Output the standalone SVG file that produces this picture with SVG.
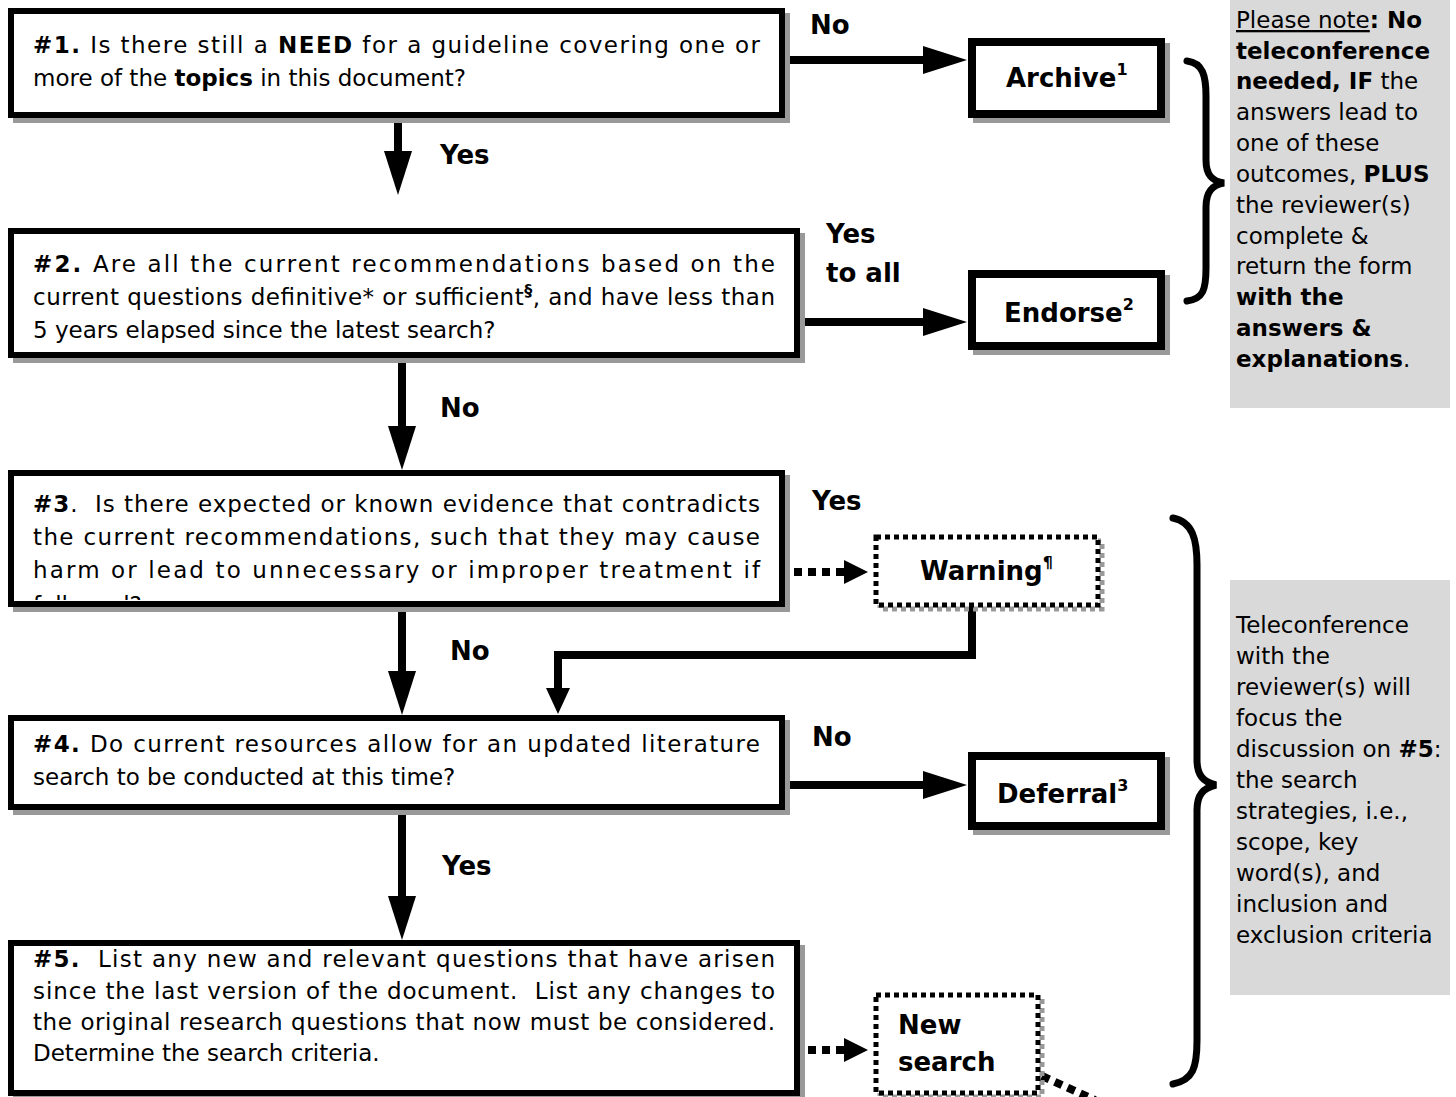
<svg xmlns="http://www.w3.org/2000/svg" width="1456" height="1097" viewBox="0 0 1456 1097">
<style>
text{font-family:"DejaVu Sans","Noto Sans",sans-serif;fill:#000}
.t{font-size:23px}
.g{font-size:23px}
.b{font-weight:bold}
.lbl{font-size:26px;font-weight:bold}
.out{font-size:26px;font-weight:bold}
.sup{font-size:16px;font-weight:bold}
.sh{fill:#999;stroke:none}
.box{fill:#fff;stroke:#000;stroke-width:6}
.obox{fill:#fff;stroke:#000;stroke-width:8}
.dbox{fill:#fff;stroke:#000;stroke-width:5;stroke-dasharray:5 4}
.dsh{fill:none;stroke:#999;stroke-width:5;stroke-dasharray:5 4}
.gray{fill:#d9d9d9}
.c{fill:none;stroke:#000;stroke-width:8}
.cd{fill:none;stroke:#000;stroke-width:8;stroke-dasharray:8 6}
.br{fill:none;stroke:#000;stroke-width:7;stroke-linecap:round}
</style>
<defs>
<marker id="ah" markerUnits="userSpaceOnUse" viewBox="0 0 44 28" markerWidth="44" markerHeight="28" refX="24" refY="14" orient="auto"><path d="M0,0 L44,14 L0,28 z" fill="#000"/></marker>
<marker id="ahs" markerUnits="userSpaceOnUse" viewBox="0 0 26 24" markerWidth="26" markerHeight="24" refX="14" refY="12" orient="auto"><path d="M0,0 L26,12 L0,24 z" fill="#000"/></marker>
<marker id="ahd" markerUnits="userSpaceOnUse" viewBox="0 0 24 24" markerWidth="24" markerHeight="24" refX="4" refY="12" orient="auto"><path d="M0,0 L24,12 L0,24 z" fill="#000"/></marker>
<clipPath id="clip3"><rect x="14" y="476" width="765" height="124"/></clipPath>
</defs>

<g id="note-top">
<rect class="gray" x="1230" y="0" width="220" height="408"/>
<text class="g" x="1236" y="28"><tspan text-decoration="underline">Please note</tspan><tspan class="b">: No</tspan></text>
<text class="g b" x="1236" y="59">teleconference</text>
<text class="g" x="1236" y="89"><tspan class="b">needed, IF</tspan> the</text>
<text class="g" x="1236" y="120">answers lead to</text>
<text class="g" x="1236" y="151">one of these</text>
<text class="g" x="1236" y="182">outcomes, <tspan class="b">PLUS</tspan></text>
<text class="g" x="1236" y="213">the reviewer(s)</text>
<text class="g" x="1236" y="244">complete &amp;</text>
<text class="g" x="1236" y="274">return the form</text>
<text class="g b" x="1236" y="305">with the</text>
<text class="g b" x="1236" y="336">answers &amp;</text>
<text class="g" x="1236" y="367"><tspan class="b">explanations</tspan>.</text>
</g>

<g id="note-bottom">
<rect class="gray" x="1230" y="580" width="220" height="415"/>
<text class="g" x="1236" y="633">Teleconference</text>
<text class="g" x="1236" y="664">with the</text>
<text class="g" x="1236" y="695">reviewer(s) will</text>
<text class="g" x="1236" y="726">focus the</text>
<text class="g" x="1236" y="757">discussion on <tspan class="b">#5</tspan>:</text>
<text class="g" x="1236" y="788">the search</text>
<text class="g" x="1236" y="819">strategies, i.e.,</text>
<text class="g" x="1236" y="850">scope, key</text>
<text class="g" x="1236" y="881">word(s), and</text>
<text class="g" x="1236" y="912">inclusion and</text>
<text class="g" x="1236" y="943">exclusion criteria</text>
</g>

<g id="connectors">
<path class="c" d="M788,60 H947" marker-end="url(#ah)"/>
<path class="c" d="M800,322 H947" marker-end="url(#ah)"/>
<path class="c" d="M788,785 H947" marker-end="url(#ah)"/>
<path class="c" d="M398,121 V175" marker-end="url(#ah)"/>
<path class="c" d="M402,361 V450" marker-end="url(#ah)"/>
<path class="c" d="M402,609 V695" marker-end="url(#ah)"/>
<path class="c" d="M402,812 V920" marker-end="url(#ah)"/>
<path class="c" d="M972,607 V655 H558 V702" marker-end="url(#ahs)"/>
<path class="cd" d="M794,572 H848" marker-end="url(#ahd)"/>
<path class="cd" d="M808,1050 H848" marker-end="url(#ahd)"/>
<path class="cd" d="M1042,1076 L1095,1100"/>
<path class="br" d="M1187,61 C1203,63 1206,76 1206,96 V160 C1206,175 1212,181 1224,183 C1212,185 1206,192 1206,207 V268 C1206,290 1203,299 1187,301"/>
<path class="br" d="M1173,518 C1193,522 1197,540 1197,565 V760 C1197,775 1203,782 1216,785 C1203,788 1197,795 1197,810 V1040 C1197,1068 1193,1080 1173,1084"/>
<text class="lbl" x="810" y="34">No</text>
<text class="lbl" x="440" y="164">Yes</text>
<text class="lbl" x="826" y="243">Yes</text>
<text class="lbl" x="826" y="282">to all</text>
<text class="lbl" x="440" y="417">No</text>
<text class="lbl" x="812" y="510">Yes</text>
<text class="lbl" x="450" y="660">No</text>
<text class="lbl" x="812" y="746">No</text>
<text class="lbl" x="442" y="875">Yes</text>
</g>

<g id="q1">
<rect class="sh" x="13" y="13" width="777" height="110"/>
<rect class="box" x="11" y="11" width="771" height="104"/>
<text class="t" x="33" y="53" textLength="727" lengthAdjust="spacing"><tspan class="b">#1.</tspan> Is there still a <tspan class="b">NEED</tspan> for a guideline covering one or</text>
<text class="t" x="33" y="86">more of the <tspan class="b">topics</tspan> in this document?</text>
</g>

<g id="q2">
<rect class="sh" x="13" y="233" width="792" height="130"/>
<rect class="box" x="11" y="231" width="786" height="124"/>
<text class="t" x="33" y="272" textLength="742" lengthAdjust="spacing"><tspan class="b">#2.</tspan> Are all the current recommendations based on the</text>
<text class="t" x="33" y="305" textLength="742" lengthAdjust="spacing">current questions definitive* or sufficient<tspan class="sup" font-weight="normal" dy="-9">§</tspan><tspan dy="9">, and have less than</tspan></text>
<text class="t" x="33" y="338">5 years elapsed since the latest search?</text>
</g>

<g id="q3">
<rect class="sh" x="13" y="475" width="777" height="137"/>
<rect class="box" x="11" y="473" width="771" height="131"/>
<g clip-path="url(#clip3)">
<text class="t" x="33" y="512" textLength="727" lengthAdjust="spacing"><tspan class="b">#3</tspan>.&#160; Is there expected or known evidence that contradicts</text>
<text class="t" x="33" y="545" textLength="727" lengthAdjust="spacing">the current recommendations, such that they may cause</text>
<text class="t" x="33" y="578" textLength="727" lengthAdjust="spacing">harm or lead to unnecessary or improper treatment if</text>
<text class="t" x="33" y="613">followed?</text>
</g>
</g>

<g id="q4">
<rect class="sh" x="13" y="720" width="777" height="95"/>
<rect class="box" x="11" y="718" width="771" height="89"/>
<text class="t" x="33" y="752" textLength="727" lengthAdjust="spacing"><tspan class="b">#4.</tspan> Do current resources allow for an updated literature</text>
<text class="t" x="33" y="785">search to be conducted at this time?</text>
</g>

<g id="q5">
<rect class="sh" x="13" y="945" width="792" height="156"/>
<rect class="box" x="11" y="943" width="786" height="150"/>
<text class="t" x="33" y="967" textLength="742" lengthAdjust="spacing"><tspan class="b">#5.</tspan>&#160; List any new and relevant questions that have arisen</text>
<text class="t" x="33" y="999" textLength="742" lengthAdjust="spacing">since the last version of the document.&#160; List any changes to</text>
<text class="t" x="33" y="1030" textLength="742" lengthAdjust="spacing">the original research questions that now must be considered.</text>
<text class="t" x="33" y="1061">Determine the search criteria.</text>
</g>

<g id="archive">
<rect class="sh" x="973" y="43" width="197" height="80"/>
<rect class="obox" x="972" y="42" width="189" height="72"/>
<text class="out" x="1006" y="87">Archive<tspan class="sup" dy="-12">1</tspan></text>
</g>

<g id="endorse">
<rect class="sh" x="973" y="275" width="197" height="80"/>
<rect class="obox" x="972" y="274" width="189" height="72"/>
<text class="out" x="1004" y="322">Endorse<tspan class="sup" dy="-12">2</tspan></text>
</g>

<g id="deferral">
<rect class="sh" x="973" y="757" width="197" height="78"/>
<rect class="obox" x="972" y="756" width="189" height="70"/>
<text class="out" x="997" y="803">Deferral<tspan class="sup" dy="-12">3</tspan></text>
</g>

<g id="warning">
<rect class="dsh" x="880" y="541" width="222" height="68"/>
<rect class="dbox" x="876" y="537" width="222" height="68"/>
<text class="out" x="920" y="580">Warning<tspan class="sup" dy="-12">¶</tspan></text>
</g>

<g id="new-search">
<rect class="dsh" x="880" y="999" width="162" height="98"/>
<rect class="dbox" x="876" y="995" width="162" height="98"/>
<text class="out" x="898" y="1034">New</text>
<text class="out" x="898" y="1071">search</text>
</g>
</svg>
